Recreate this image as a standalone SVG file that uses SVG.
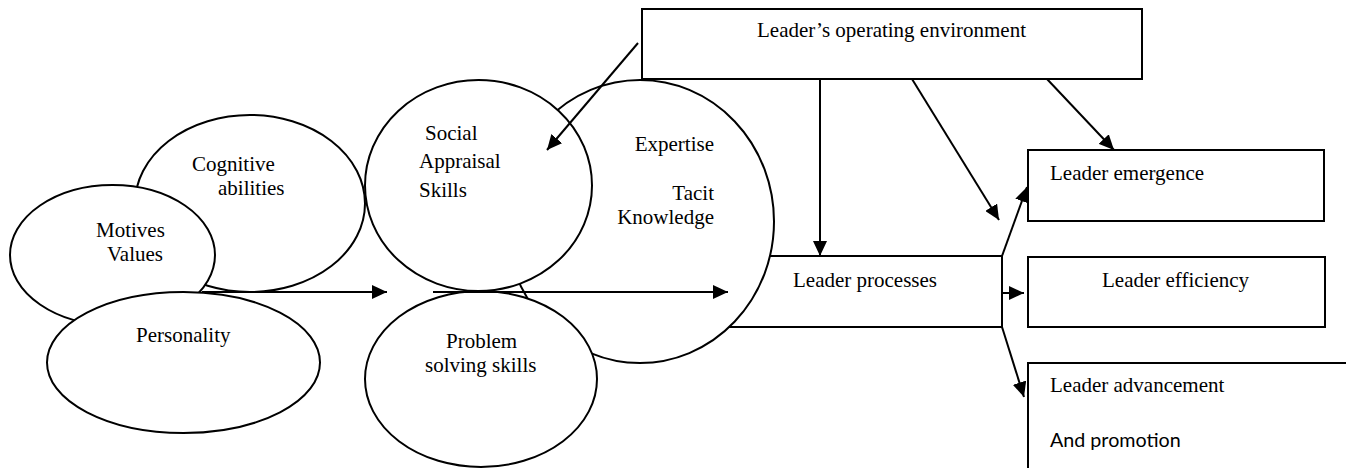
<svg xmlns="http://www.w3.org/2000/svg" width="1346" height="468" viewBox="0 0 1346 468">
  <style>
    .shape { fill: #ffffff; stroke: #000000; stroke-width: 2; }
    .label { font-family: "Liberation Serif", "Times New Roman", serif; font-size: 21px; fill: #000000; }
    .label-sans { font-family: Lato, "Open Sans", "Liberation Sans", sans-serif; font-size: 19.7px; fill: #000000; }
    .end { text-anchor: end; }
    .conn { fill: none; stroke: #000000; stroke-width: 2; marker-end: url(#arrow); }
  </style>
  <defs>
    <marker id="arrow" markerUnits="userSpaceOnUse" markerWidth="16" markerHeight="14" refX="15" refY="7" orient="auto">
      <path d="M0,0 L15,7 L0,14 Z" fill="#000000"/>
    </marker>
  </defs>

  <rect width="1346" height="468" fill="#ffffff"/>

  <!-- individual attributes cluster -->
  <g id="cognitive">
    <ellipse class="shape" cx="250" cy="203.5" rx="115" ry="88.5"/>
    <text class="label" x="192" y="171">Cognitive</text>
    <text class="label" x="218" y="195">abilities</text>
  </g>
  <g id="motives">
    <ellipse class="shape" cx="112.5" cy="255" rx="102.5" ry="70"/>
    <text class="label" x="96" y="237">Motives</text>
    <text class="label" x="107" y="261">Values</text>
  </g>
  <g id="personality">
    <ellipse class="shape" cx="183.5" cy="362.5" rx="136.5" ry="70.5"/>
    <text class="label" x="136" y="342">Personality</text>
  </g>

  <!-- process box sits behind the expertise circle -->
  <g id="leader-processes">
    <rect class="shape" x="690" y="256" width="312" height="71"/>
    <text class="label" x="793" y="287">Leader processes</text>
  </g>

  <!-- skills and knowledge cluster -->
  <g id="expertise">
    <ellipse class="shape" cx="640" cy="221.5" rx="134" ry="141.5"/>
    <text class="label end" x="714" y="151">Expertise</text>
    <text class="label end" x="714" y="200">Tacit</text>
    <text class="label end" x="714" y="224">Knowledge</text>
  </g>
  <g id="social-appraisal">
    <ellipse class="shape" cx="478.5" cy="185.5" rx="113.5" ry="105.5"/>
    <text class="label" x="425" y="140">Social</text>
    <text class="label" x="419" y="168">Appraisal</text>
    <text class="label" x="419" y="197">Skills</text>
  </g>
  <g id="problem-solving">
    <ellipse class="shape" cx="481" cy="379" rx="116" ry="88"/>
    <text class="label" x="446" y="348">Problem</text>
    <text class="label" x="425" y="372">solving skills</text>
  </g>

  <!-- environment -->
  <g id="operating-environment">
    <rect class="shape" x="642" y="9" width="500" height="70"/>
    <text class="label" x="757" y="37">Leader’s operating environment</text>
  </g>

  <!-- outcomes -->
  <g id="leader-emergence">
    <rect class="shape" x="1028" y="150" width="296" height="71"/>
    <text class="label" x="1050" y="180">Leader emergence</text>
  </g>
  <g id="leader-efficiency">
    <rect class="shape" x="1028" y="257" width="297" height="70"/>
    <text class="label" x="1102" y="287">Leader efficiency</text>
  </g>
  <g id="leader-advancement">
    <path class="shape" d="M1028,470 L1028,363 L1350,363"/>
    <text class="label" x="1050" y="392">Leader advancement</text>
    <text class="label-sans" x="1050" y="447">And promotion</text>
  </g>

  <!-- connectors -->
  <g id="connectors">
    <line class="conn" x1="202" y1="292" x2="387" y2="292"/>
    <line class="conn" x1="433" y1="292" x2="728" y2="292"/>
    <line class="conn" x1="638" y1="43" x2="547" y2="150"/>
    <line class="conn" x1="820" y1="79" x2="820" y2="256"/>
    <line class="conn" x1="912" y1="79" x2="999" y2="220"/>
    <line class="conn" x1="1047" y1="79" x2="1114" y2="150"/>
    <line class="conn" x1="1002" y1="256" x2="1027" y2="187"/>
    <line class="conn" x1="1002" y1="293" x2="1024" y2="293"/>
    <line class="conn" x1="1002" y1="327" x2="1024" y2="397"/>
  </g>
</svg>
